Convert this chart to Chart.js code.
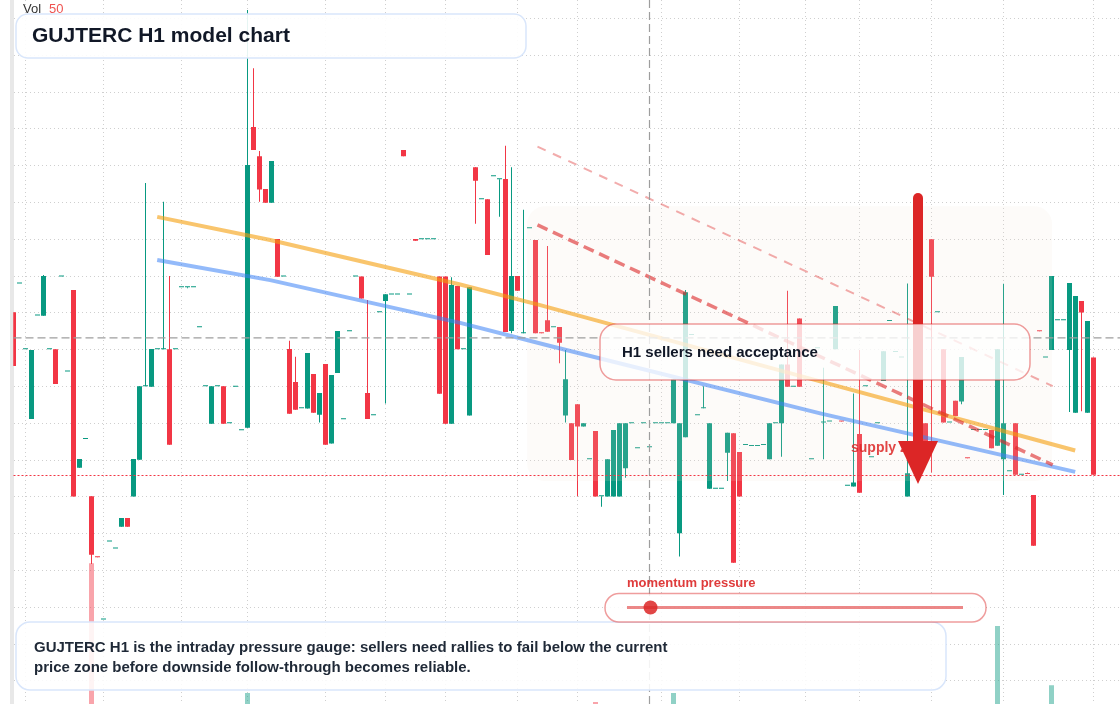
<!DOCTYPE html>
<html>
<head>
<meta charset="utf-8">
<script src="https://cdn.jsdelivr.net/npm/chart.js@4.4.1/dist/chart.umd.min.js"></script>
<style>
  html, body { margin: 0; padding: 0; background: #fff; }
  #wrap { position: relative; width: 1120px; height: 704px; }
</style>
</head>
<body>
<div id="wrap"><canvas id="c" width="1120" height="704"></canvas></div>
<script>
// hourly bars, index = bar number (null = no bar visible)
const opens = [
  22.02, 22.80, 21.01, 19.12, 21.93, 21.92, 21.01, 21.01, 22.99, 20.41,
  22.62, 17.79, 18.57, 17.02, 15.37, 13.67, 15.79, 15.60, 16.19, 16.43,
  17.01, 18.01, 20.01, 19.99, 21.01, 21.01, 21.01, 21.01, 22.70, 22.70,
  22.70, 21.61, 20.01, 18.99, 20.01, 20.01, 19.00, 19.99, 18.81, 18.88,
  27.05, 26.26, 25.37, 24.99, 24.01, 22.99, 21.02, 20.12, 19.41, 19.40,
  20.34, 19.23, 20.61, 18.45, 20.37, 19.11, 21.50, 22.99, 22.99, 19.82,
  19.22, 22.02, 22.32, 22.50, 22.50, 26.43, 22.50, 24.01, 24.00, 24.00,
  24.00, 22.99, 22.99, 18.99, 22.73, 21.01, 19.21, 25.96, 25.09, 25.09,
  25.71, 25.63, 25.64, 21.51, 23.00, 21.45, 24.30, 23.98, 21.46, 21.80,
  21.61, 21.62, 19.21, 19.00, 19.52, 18.91, 18.02, 18.79, 17.02, 17.01,
  17.01, 17.01, 17.78, 19.00, 18.32, 19.00, 18.35, 19.00, 19.00, 19.00,
  19.00, 16.01, 18.62, 21.40, 19.22, 19.41, 17.22, 17.22, 17.22, 18.20,
  18.73, 18.22, 18.41, 18.38, 18.38, 18.41, 18.02, 19.00, 19.00, 20.60,
  19.99, 21.85, null, 18.02, 21.04, 19.02, 19.05, 21.01, 19.06, 17.30,
  17.28, 18.71, 20.01, 18.08, 19.00, 20.15, 21.78, 20.94, 20.79, 17.01,
  null, null, 19.00, 24.00, 22.02, 21.01, 19.02, 19.61, 19.59, 18.06,
  18.82, 18.82, 18.82, 18.82, 18.39, 18.02, 17.70, 19.00, 17.60, 17.63,
  17.05, 21.51, 20.79, 20.99, 21.80, 21.80, 20.99, 19.29, 22.32, 19.29, 20.79
];
const closes = [
  20.56, 22.80, 21.01, 20.99, 21.93, 23.00, 21.01, 20.07, 22.99, 20.41,
  17.01, 18.03, 18.57, 15.43, 15.36, 13.67, 15.79, 15.60, 16.43, 16.19,
  18.03, 20.01, 20.01, 21.02, 21.01, 21.01, 18.42, 21.01, 22.70, 22.70,
  22.70, 21.61, 20.01, 20.01, 20.01, 18.99, 19.00, 19.99, 18.81, 26.02,
  26.43, 25.35, 24.99, 26.13, 22.98, 22.99, 19.26, 19.37, 19.41, 20.91,
  19.29, 19.82, 18.42, 20.31, 21.51, 19.11, 21.50, 22.99, 22.39, 19.12,
  19.22, 22.02, 22.51, 22.50, 22.50, 26.26, 22.50, 23.96, 24.00, 24.00,
  24.00, 19.80, 18.99, 22.76, 21.01, 21.01, 22.70, 25.59, 25.09, 23.57,
  25.71, 25.63, 21.48, 23.00, 22.60, 21.45, 24.30, 21.45, 21.45, 21.49,
  21.61, 21.19, 20.20, 18.00, 18.91, 19.00, 18.02, 17.01, 17.02, 18.02,
  18.82, 19.00, 19.00, 19.00, 18.32, 19.00, 18.35, 19.00, 19.00, 19.00,
  20.20, 19.00, 22.56, 21.40, 19.22, 19.41, 19.00, 17.22, 17.22, 18.74,
  15.21, 17.01, 18.41, 18.38, 18.38, 18.41, 19.00, 19.00, 20.60, 19.99,
  19.99, 19.99, null, 18.02, 21.04, 19.02, 19.05, 22.19, 19.05, 17.30,
  17.39, 17.11, 20.01, 18.08, 19.00, 20.96, 21.78, 20.94, 20.79, 17.64,
  null, null, 18.46, 22.98, 22.02, 19.02, 19.02, 19.20, 20.80, 18.05,
  18.82, 18.82, 18.82, 18.32, 21.01, 19.00, 17.70, 17.60, 17.60, 17.62,
  15.67, 21.50, 20.79, 23.00, 21.80, 21.80, 22.81, 22.46, 22.01, 21.78, 17.60
];
// wick ends, null = wick stops at the body
const highs = [
  null, null, null, null, null, 23.03, null, null, null, null,
  null, null, null, null, null, null, null, null, null, null,
  null, null, 25.53, null, null, 25.02, 23.00, null, null, null,
  null, null, null, null, null, null, null, null, null, 30.23,
  28.65, 26.40, null, null, null, null, 21.24, 20.81, null, null,
  null, null, null, null, null, null, null, null, null, 22.35,
  null, null, null, null, null, null, null, null, null, null,
  null, null, null, 22.97, null, null, null, null, null, null,
  null, null, 26.54, 25.96, null, 24.80, null, null, null, 23.82,
  null, null, 20.99, null, null, null, null, null, null, null,
  null, null, null, null, null, null, null, null, null, null,
  null, null, 22.62, null, null, 20.01, null, null, null, null,
  null, null, null, null, null, null, null, null, null, 22.60,
  null, null, null, null, null, 20.51, null, null, null, null,
  19.81, 20.99, null, null, null, null, null, null, null, 22.80,
  null, null, null, null, null, null, null, null, null, null,
  null, null, null, null, null, 22.79, null, null, null, 17.66,
  null, null, null, null, null, null, null, null, null, null, null
];
const lows = [
  null, null, null, null, null, null, null, null, null, null,
  null, null, null, 15.18, null, null, null, null, null, null,
  null, null, null, null, null, null, null, null, null, 22.67,
  null, null, null, null, null, null, null, null, null, null,
  null, 25.02, null, null, null, null, null, null, null, null,
  null, 19.02, null, null, null, null, null, null, null, null,
  null, null, 19.54, null, null, null, null, null, null, null,
  null, null, null, null, null, null, null, 24.42, null, null,
  null, 24.61, null, 21.45, null, null, null, null, null, null,
  null, 20.63, 19.02, null, 17.02, null, null, null, 16.73, null,
  null, null, 17.52, null, null, null, null, null, null, null,
  null, 15.38, null, null, null, null, null, null, null, 17.43,
  null, null, null, null, null, null, null, null, 18.09, null,
  null, null, null, null, null, 18.02, null, null, null, null,
  null, null, null, null, null, null, null, null, null, null,
  null, null, null, 17.66, null, null, null, null, 19.52, null,
  null, null, null, null, null, 17.05, null, null, null, null,
  null, null, null, null, null, null, 19.31, null, 19.33, null, null
];

// the volume bars that show at the bottom
const volIdx = [13, 39, 97, 110, 164, 173];
const volumes = [50, 3.9, 0.7, 3.9, 27.7, 6.7];

// vertical grid (session breaks) and price grid
const gridIdx = [2, 15, 28, 39, 52, 62, 72, 84, 94, 108, 121, 132, 141, 153, 165, 180];
const priceTicks = [12, 13, 14, 15, 16, 17, 18, 19, 20, 21, 22, 23, 24, 25, 26, 27, 28, 29, 30];

// drawn lines
const orangeIdx = [23.95, 42.78, 74.45, 87.78, 134.45, 176.95];
const orangePx  = [24.61, 23.98, 22.77, 22.21, 20.14, 18.26];
const blueIdx = [23.95, 42.78, 74.45, 89.45, 134.45, 176.95];
const bluePx  = [23.44, 22.89, 21.73, 21.10, 19.27, 17.68];
const dashIdx = [87.33, 173.2];
const dashHiPx = [26.52, 20.01];
const dashLoPx = [24.39, 17.87];

// supply zone, crosshair, arrow
const zoneIdx = [85.6, 173.1];
const zonePx = [17.43, 24.90];
const crossIdx = 106;
const crossPx = 21.32;
const arrowIdx = 150.75;
const arrowPx = [25.12, 17.35];
const momentumValue = 0.07;

const UP = '#089981', DOWN = '#f23645';
const UP_VOL = 'rgba(8,153,129,0.45)', DOWN_VOL = 'rgba(242,54,69,0.45)';
const FONT = '"Liberation Sans", Arial, sans-serif';

const wicks = [], bodies = [], candleColors = [];
opens.forEach((o, i) => {
  if (o === null) return;
  const c = closes[i];
  const hi = highs[i] !== null ? highs[i] : Math.max(o, c);
  const lo = lows[i] !== null ? lows[i] : Math.min(o, c);
  wicks.push({x: i, y: [lo, hi]});
  bodies.push({x: i, y: [o, c]});
  candleColors.push(c >= o ? UP : DOWN);
});

const barBase = { type: 'bar', grouped: false, borderWidth: 0, inflateAmount: 0, borderSkipped: false };
const lineBase = { type: 'line', pointRadius: 0, tension: 0, fill: false, yAxisID: 'y' };

function rrect(ctx, x, y, w, h, r) {
  ctx.beginPath();
  ctx.roundRect(x, y, w, h, r);
}

const overlay = {
  id: 'overlay',
  beforeDraw(chart) {
    const ctx = chart.ctx;
    ctx.save();
    ctx.fillStyle = '#e8e8e8';
    ctx.fillRect(10, 0, 4, 704);
    ctx.restore();
  },
  beforeDatasetDraw(chart, args) {
    if (chart.data.datasets[args.index].key !== 'blue') return;
    // supply zone sits over the candles, under the lines
    const {ctx, scales: {x, y}} = chart;
    const x0 = x.getPixelForValue(zoneIdx[0]), x1 = x.getPixelForValue(zoneIdx[1]);
    const y0 = y.getPixelForValue(zonePx[1]), y1 = y.getPixelForValue(zonePx[0]);
    ctx.save();
    ctx.fillStyle = 'rgba(241,226,212,0.14)';
    rrect(ctx, x0, y0, x1 - x0, y1 - y0, 18);
    ctx.fill();
    ctx.restore();
  },
  afterDatasetsDraw(chart) {
    const {ctx, chartArea: a, scales: {x, y}} = chart;
    ctx.save();

    // crosshair
    const cx = x.getPixelForValue(crossIdx), cy = y.getPixelForValue(crossPx);
    ctx.strokeStyle = '#9e9e9e';
    ctx.lineWidth = 1.2;
    ctx.setLineDash([8, 4]);
    ctx.beginPath();
    ctx.moveTo(a.left, cy); ctx.lineTo(a.right, cy);
    ctx.moveTo(cx, a.top); ctx.lineTo(cx, a.bottom);
    ctx.stroke();

    // last price
    const ly = Math.round(y.getPixelForValue(closes[closes.length - 1])) + 0.5;
    ctx.strokeStyle = '#f23645';
    ctx.lineWidth = 1;
    ctx.setLineDash([2, 2]);
    ctx.beginPath();
    ctx.moveTo(a.left, ly); ctx.lineTo(a.right, ly);
    ctx.stroke();
    ctx.setLineDash([]);

    // zone label
    ctx.fillStyle = 'rgba(220,38,38,0.85)';
    ctx.font = 'bold 14px ' + FONT;
    ctx.textBaseline = 'middle';
    ctx.fillText('supply zone', 851, 448);

    // big arrow
    const ax = x.getPixelForValue(arrowIdx);
    const ayTop = y.getPixelForValue(arrowPx[0]);
    const ayTip = y.getPixelForValue(arrowPx[1]);
    const headLen = 43, headHalf = 20;
    ctx.strokeStyle = '#dc2626';
    ctx.fillStyle = '#dc2626';
    ctx.lineWidth = 10;
    ctx.lineCap = 'round';
    ctx.beginPath();
    ctx.moveTo(ax, ayTop); ctx.lineTo(ax, ayTip - headLen + 2);
    ctx.stroke();
    ctx.beginPath();
    ctx.moveTo(ax - headHalf, ayTip - headLen);
    ctx.lineTo(ax + headHalf, ayTip - headLen);
    ctx.lineTo(ax, ayTip);
    ctx.closePath();
    ctx.fill();
    ctx.lineCap = 'butt';

    // callout
    rrect(ctx, 600, 324, 430, 56, 16);
    ctx.fillStyle = 'rgba(255,255,255,0.78)';
    ctx.fill();
    ctx.strokeStyle = 'rgba(220,38,38,0.45)';
    ctx.lineWidth = 1.5;
    ctx.stroke();
    ctx.fillStyle = '#111827';
    ctx.font = 'bold 15px ' + FONT;
    ctx.fillText('H1 sellers need acceptance', 622, 353);

    // title
    rrect(ctx, 16, 14, 510, 44, 12);
    ctx.fillStyle = 'rgba(255,255,255,0.9)';
    ctx.fill();
    ctx.strokeStyle = '#d9e6fb';
    ctx.lineWidth = 1.5;
    ctx.stroke();
    ctx.fillStyle = '#111827';
    ctx.font = 'bold 21px ' + FONT;
    ctx.fillText('GUJTERC H1 model chart', 32, 36.5);

    // note
    rrect(ctx, 16, 622, 930, 68, 14);
    ctx.fillStyle = 'rgba(255,255,255,0.88)';
    ctx.fill();
    ctx.strokeStyle = '#d9e6fb';
    ctx.stroke();
    ctx.fillStyle = '#1f2937';
    ctx.font = 'bold 15px ' + FONT;
    ctx.fillText('GUJTERC H1 is the intraday pressure gauge: sellers need rallies to fail below the current', 34, 648);
    ctx.fillText('price zone before downside follow-through becomes reliable.', 34, 668);

    // momentum gauge
    ctx.fillStyle = 'rgba(220,38,38,0.9)';
    ctx.font = 'bold 13px ' + FONT;
    ctx.fillText('momentum pressure', 627, 583);
    rrect(ctx, 605, 593.5, 381, 28.5, 14);
    ctx.fillStyle = 'rgba(255,255,255,0.85)';
    ctx.fill();
    ctx.strokeStyle = 'rgba(220,38,38,0.45)';
    ctx.lineWidth = 1.5;
    ctx.stroke();
    const t0 = 627, t1 = 963, ty = 607.5;
    ctx.strokeStyle = 'rgba(220,38,38,0.55)';
    ctx.lineWidth = 3;
    ctx.beginPath();
    ctx.moveTo(t0, ty); ctx.lineTo(t1, ty);
    ctx.stroke();
    ctx.fillStyle = 'rgba(220,38,38,0.85)';
    ctx.beginPath();
    ctx.arc(t0 + (t1 - t0) * momentumValue, ty, 7, 0, Math.PI * 2);
    ctx.fill();

    // volume legend
    ctx.font = '13px ' + FONT;
    ctx.fillStyle = '#333';
    ctx.fillText('Vol', 23, 9);
    ctx.fillStyle = '#ef5350';
    ctx.fillText(String(Math.max(...volumes)), 49, 9);

    ctx.restore();
  }
};

new Chart(document.getElementById('c'), {
  type: 'bar',
  data: {
    datasets: [
      Object.assign({}, barBase, {
        key: 'vol', yAxisID: 'yv', order: 7, barThickness: 5,
        data: volIdx.map((i, k) => ({x: i, y: volumes[k]})),
        backgroundColor: volIdx.map(i => closes[i] >= opens[i] ? UP_VOL : DOWN_VOL)
      }),
      Object.assign({}, barBase, {
        key: 'wick', yAxisID: 'y', order: 6, barThickness: 1,
        data: wicks, backgroundColor: candleColors
      }),
      Object.assign({}, barBase, {
        key: 'body', yAxisID: 'y', order: 5, barThickness: 5, minBarLength: 1,
        data: bodies, backgroundColor: candleColors
      }),
      Object.assign({}, lineBase, {
        key: 'blue', order: 4, borderWidth: 4, borderColor: 'rgba(59,130,246,0.55)',
        data: blueIdx.map((v, k) => ({x: v, y: bluePx[k]}))
      }),
      Object.assign({}, lineBase, {
        key: 'orange', order: 3, borderWidth: 4, borderColor: 'rgba(245,158,11,0.6)',
        data: orangeIdx.map((v, k) => ({x: v, y: orangePx[k]}))
      }),
      Object.assign({}, lineBase, {
        key: 'dashHi', order: 2, borderWidth: 2, borderDash: [9, 8], borderColor: 'rgba(220,38,38,0.38)',
        data: dashIdx.map((v, k) => ({x: v, y: dashHiPx[k]}))
      }),
      Object.assign({}, lineBase, {
        key: 'dashLo', order: 1, borderWidth: 3.5, borderDash: [11, 6], borderColor: 'rgba(220,38,38,0.6)',
        data: dashIdx.map((v, k) => ({x: v, y: dashLoPx[k]}))
      })
    ]
  },
  options: {
    responsive: false,
    devicePixelRatio: 1,
    animation: false,
    events: [],
    layout: { padding: { left: 13.5, right: 0, top: 0, bottom: 0 } },
    plugins: { legend: { display: false }, tooltip: { enabled: false } },
    scales: {
      x: {
        type: 'linear', min: 0, max: (1120 - 13.5) / 6, offset: false,
        afterBuildTicks: s => { s.ticks = gridIdx.map(v => ({value: v})); },
        ticks: { display: false },
        grid: { color: '#cfcfcf', drawTicks: false, offset: false },
        border: { display: false, dash: [1, 3] }
      },
      y: {
        position: 'left', min: 30 - 685.5 / 36.8, max: 30 + 18.5 / 36.8,
        afterBuildTicks: s => { s.ticks = priceTicks.map(v => ({value: v})); },
        ticks: { display: false },
        grid: { color: '#cfcfcf', drawTicks: false },
        border: { display: false, dash: [1, 3] }
      },
      yv: { display: false, min: 0, max: 250 }
    }
  },
  plugins: [overlay]
});
</script>
</body>
</html>
